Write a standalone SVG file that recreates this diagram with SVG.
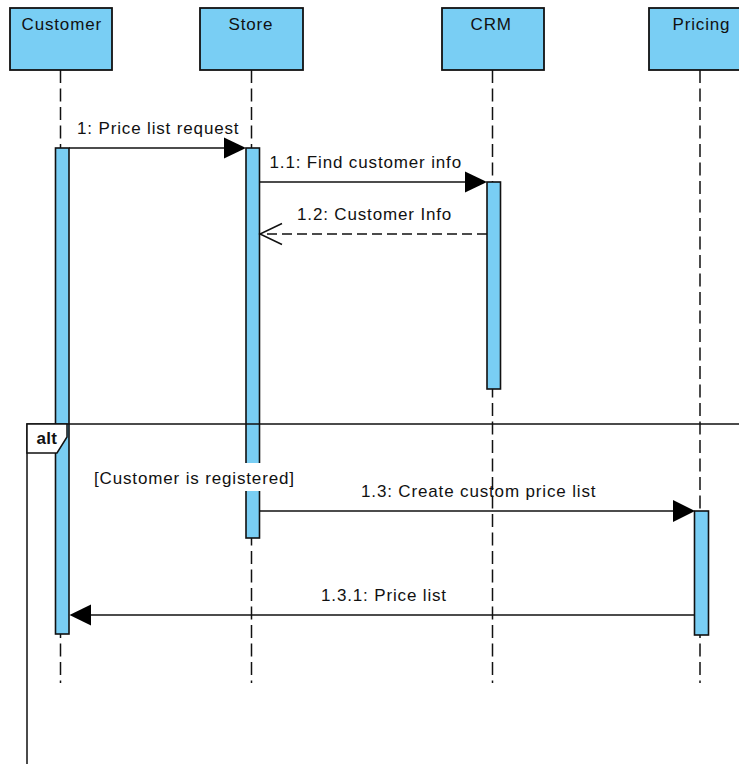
<svg xmlns="http://www.w3.org/2000/svg" width="739" height="764" viewBox="0 0 739 764">
<defs>
<style>
text{font-family:"Liberation Sans",Arial,sans-serif;font-size:17px;fill:#111;letter-spacing:0.85px}
.hd{fill:#79CEF4;stroke:#111;stroke-width:1.8}
.act{fill:#79CEF4;stroke:#111;stroke-width:1.6}
.life{stroke:#111;stroke-width:1.5;stroke-dasharray:13,5.5;fill:none}
.msg{stroke:#111;stroke-width:1.5;fill:none}
.ret{stroke:#111;stroke-width:1.5;fill:none;stroke-dasharray:10,5}
.ah{fill:#000}
.frame{fill:none;stroke:#111;stroke-width:1.5}
</style>
</defs>
<rect width="739" height="764" fill="#fff"/>
<g id="lifelines">
<line class="life" x1="60.5" y1="70" x2="60.5" y2="683"/>
<line class="life" x1="251.5" y1="70" x2="251.5" y2="683"/>
<line class="life" x1="492.5" y1="70" x2="492.5" y2="683"/>
<line class="life" x1="700" y1="70" x2="700" y2="683"/>
</g>
<g id="customer">
<rect class="hd" x="10" y="8" width="102" height="62"/>
<text x="21.5" y="30">Customer</text>
<rect class="act" x="55.5" y="148" width="13.5" height="486"/>
</g>
<g id="store">
<rect class="hd" x="200" y="8" width="103" height="62"/>
<text x="228.5" y="30">Store</text>
<rect class="act" x="246" y="148" width="13.5" height="390"/>
</g>
<g id="crm">
<rect class="hd" x="442" y="8" width="102" height="62"/>
<text x="470.5" y="30">CRM</text>
<rect class="act" x="487" y="182" width="13.5" height="207"/>
</g>
<g id="pricing">
<rect class="hd" x="649" y="8" width="102" height="62"/>
<text x="672.5" y="30">Pricing</text>
<rect class="act" x="694.5" y="511" width="14" height="124"/>
</g>
<g id="alt-frame">
<rect class="frame" x="27" y="424" width="730" height="360"/>
<polygon points="27,424 67,424 67,437 57,453 27,453" fill="#fff" stroke="#111" stroke-width="1.5"/>
<text x="36.5" y="444" style="font-weight:bold;letter-spacing:0.3px">alt</text>
<rect x="91" y="463" width="207" height="28" fill="#fff"/>
<text x="94" y="484">[Customer is registered]</text>
</g>
<g id="connectors">
<line class="msg" x1="69" y1="148" x2="226" y2="148"/>
<polygon class="ah" points="246,148 224,137.5 224,158.5"/>
<text x="77" y="133.5">1: Price list request</text>
<line class="msg" x1="259.5" y1="182" x2="467" y2="182"/>
<polygon class="ah" points="487,182 465,171.5 465,192.5"/>
<text x="269.5" y="168">1.1: Find customer info</text>
<line class="ret" x1="487" y1="234" x2="260" y2="234"/>
<polyline class="msg" points="282,223.5 260,234 282,244.5"/>
<text x="297" y="220">1.2: Customer Info</text>
<line class="msg" x1="259.5" y1="511" x2="675" y2="511"/>
<polygon class="ah" points="695,511 673,500 673,522"/>
<text x="361" y="497">1.3: Create custom price list</text>
<line class="msg" x1="694.5" y1="615" x2="89" y2="615"/>
<polygon class="ah" points="69.5,615 91,604.5 91,625.5"/>
<text x="321" y="600.5">1.3.1: Price list</text>
</g>
</svg>
